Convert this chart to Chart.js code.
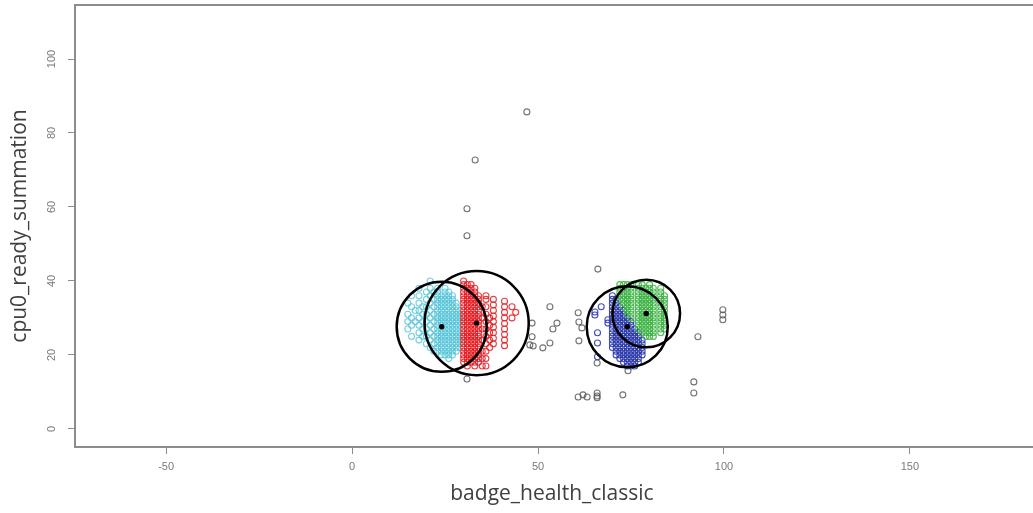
<!DOCTYPE html>
<html>
<head>
<meta charset="utf-8">
<script src="https://cdn.jsdelivr.net/npm/chart.js@4.4.1/dist/chart.umd.min.js"></script>
<style>
  html, body { margin: 0; padding: 0; background: #fff; }
  #wrap { width: 1033px; height: 513px; }
</style>
</head>
<body>
<div id="wrap"><canvas id="clusterChart" width="1033" height="513"></canvas></div>
<script>
// axis ticks
const xTickValues = [-50, 0, 50, 100, 150];
const yTickValues = [0, 20, 40, 60, 80, 100];

// cluster points, stored as columns: one x and the y values read along it
const cyanColX = [15, 16, 17, 18, 19, 20, 21, 22, 23, 24, 25, 26, 27, 28, 29];
const cyanColY = [
  [27, 29, 31, 34],
  [25, 28, 30, 33, 36],
  [29, 32],
  [24, 26, 28, 30, 32, 34, 36, 38],
  [25, 27, 29, 31, 33],
  [23, 25, 27, 29, 31, 33, 35, 37],
  [22, 24, 26, 28, 30, 32, 34, 36, 38, 40],
  [21, 23, 25, 27, 29, 31, 33, 35, 37],
  [21, 22, 23, 24, 25, 26, 27, 28, 29, 30, 31, 32, 33, 34, 35, 36, 37, 38],
  [20, 21, 22, 23, 24, 25, 26, 27, 28, 29, 30, 31, 32, 33, 34, 35, 36],
  [20, 21, 22, 23, 24, 25, 26, 27, 28, 29, 30, 31, 32, 33, 34, 35, 36, 37, 38],
  [19, 20, 21, 22, 23, 24, 25, 26, 27, 28, 29, 30, 31, 32, 33, 34, 35, 36, 37],
  [20, 21, 22, 23, 24, 25, 26, 27, 28, 29, 30, 31, 32, 33, 34, 35, 36],
  [21, 22, 23, 24, 25, 26, 27, 28, 29, 30, 31, 32, 33, 34],
  [22, 23, 24, 25, 26, 27, 28, 29, 30, 31, 32]
];

const redColX = [30, 31, 32, 33, 34, 35, 36, 37, 38, 41, 43, 44];
const redColY = [
  [18, 19, 20, 21, 22, 23, 24, 25, 26, 27, 28, 29, 30, 31, 32, 33, 34, 35, 36, 37, 38, 39, 40],
  [17, 18, 19, 20, 21, 22, 23, 24, 25, 26, 27, 28, 29, 30, 31, 32, 33, 34, 35, 36, 37, 38, 39],
  [18, 19, 20, 21, 22, 23, 24, 25, 26, 27, 28, 29, 30, 31, 32, 33, 34, 35, 36, 37, 38, 39],
  [17, 18, 19, 20, 21, 22, 23, 24, 25, 26, 27, 28, 29, 30, 31, 32, 33, 34, 35, 36, 37, 38],
  [18, 19, 20, 21, 22, 23, 24, 25, 26, 27, 28, 29, 30, 31, 32, 33, 34, 35, 36],
  [17, 19, 21, 24, 27, 30, 33],
  [17, 19, 21, 23, 25, 27, 29, 31, 33, 35, 36],
  [22, 24, 26, 28, 30],
  [23, 24.5, 26, 27.5, 29, 30.5, 32, 33.5, 35],
  [22.5, 24, 25.5, 27, 28.5, 30, 31.5, 33, 34.5],
  [30, 33],
  [31.5]
];

const blueColX = [65.3, 66, 67, 68.8, 70, 71, 72, 73, 74, 75, 76, 77, 78];
const blueColY = [
  [31.6, 30.8],
  [26, 23.2, 19.5],
  [33],
  [29.5, 28.6],
  [22, 23, 24, 25, 26, 27, 28, 29, 30, 31, 32, 33, 34, 35, 36],
  [20, 21, 22, 23, 24, 25, 26, 27, 28, 29, 30, 31, 32, 33, 34, 35],
  [19, 20, 21, 22, 23, 24, 25, 26, 27, 28, 29, 30, 31, 32, 33],
  [18, 19, 20, 21, 22, 23, 24, 25, 26, 27, 28, 29, 30, 31, 32],
  [17, 18, 19, 20, 21, 22, 23, 24, 25, 26, 27, 28, 29, 30],
  [17, 18, 19, 20, 21, 22, 23, 24, 25, 26, 27, 28, 29],
  [17, 18, 19, 20, 21, 22, 23, 24, 25, 26, 27],
  [18, 19, 20, 21, 22, 23, 24, 25, 26],
  [20, 21, 22, 23, 24]
];

const greenColX = [72, 73, 74, 75, 77, 78, 79, 80, 81, 83, 84];
const greenColY = [
  [35, 36, 37, 38, 39],
  [33, 34, 35, 36, 37, 38, 39],
  [31, 32, 33, 34, 35, 36, 37, 38, 39],
  [30, 31, 32, 33, 34, 35, 36, 37, 38, 39],
  [27, 28, 29, 30, 31, 32, 33, 34, 35, 36, 37, 38, 39],
  [26, 27, 28, 29, 30, 31, 32, 33, 34, 35, 36, 37, 38, 39],
  [25, 26, 27, 28, 29, 30, 31, 32, 33, 34, 35, 36, 37, 38],
  [25, 26, 27, 28, 29, 30, 31, 32, 33, 34, 35, 36, 37, 38, 39],
  [25, 26, 27, 28, 29, 30, 31, 32, 33, 34, 35, 36, 37, 38],
  [26, 27, 28, 29, 30, 31, 32, 33, 34, 35, 36, 37, 38],
  [27, 28, 29, 30, 31, 32, 33, 34, 35, 36]
];

// points outside any cluster
const outlierX = [47.0, 33.1, 30.9, 30.9, 66.1, 53.2, 55.1, 54.0, 48.4, 48.4, 47.8, 48.7, 51.3, 53.2,
                  30.9, 60.8, 61.0, 61.8, 61.0, 65.9, 74.2, 60.8, 62.1, 63.2, 65.9, 65.9, 65.9, 72.8,
                  99.7, 99.7, 99.7, 93.0, 91.9, 91.9];
const outlierY = [85.7, 72.7, 59.5, 52.2, 43.2, 33.0, 28.6, 27.0, 28.6, 24.9, 22.7, 22.4, 21.9, 23.2,
                  13.5, 31.4, 28.9, 27.3, 23.8, 17.8, 15.7, 8.6, 9.2, 8.6, 9.7, 8.9, 8.4, 9.2,
                  32.2, 30.8, 29.5, 24.9, 12.7, 9.7];

// cluster centres and the radius of the ring drawn round each
const centreX = [24.1, 33.5, 74.0, 79.1];
const centreY = [27.6, 28.6, 27.6, 31.2];
const ringRadius = [12.1, 14.0, 10.9, 9.1];

function columnsToPoints(colX, colY) {
  const pts = [];
  colX.forEach((x, i) => colY[i].forEach(y => pts.push({ x: x, y: y })));
  return pts;
}

function pairsToPoints(xs, ys) {
  return xs.map((x, i) => ({ x: x, y: ys[i] }));
}

// lower "order" is painted later, so it sits on top
function pointSet(label, data, color, order) {
  return {
    label: label,
    data: data,
    order: order,
    pointStyle: 'circle',
    pointRadius: 3,
    pointHoverRadius: 3,
    pointBorderWidth: 1.1,
    borderColor: color,
    backgroundColor: 'rgba(0,0,0,0)'
  };
}

// frame, rotated y labels (R style) and the cluster rings
const rStylePlugin = {
  id: 'rStyle',
  afterDatasetsDraw(chart) {
    const ctx = chart.ctx;
    const xs = chart.scales.x;
    const ys = chart.scales.y;
    ctx.save();
    ctx.strokeStyle = '#000';
    ctx.lineWidth = 2.5;
    centreX.forEach((cx, i) => {
      const px = xs.getPixelForValue(cx);
      const py = ys.getPixelForValue(centreY[i]);
      const r = xs.getPixelForValue(cx + ringRadius[i]) - px;
      ctx.beginPath();
      ctx.arc(px, py, r, 0, Math.PI * 2);
      ctx.stroke();
    });
    ctx.restore();
  },
  afterDraw(chart) {
    const ctx = chart.ctx;
    const area = chart.chartArea;
    const ys = chart.scales.y;
    ctx.save();
    ctx.strokeStyle = '#8c8c8c';
    ctx.lineWidth = 2;
    // the right side of the box falls outside the picture
    ctx.beginPath();
    ctx.moveTo(chart.width + 2, area.top);
    ctx.lineTo(area.left, area.top);
    ctx.lineTo(area.left, area.bottom);
    ctx.lineTo(chart.width + 2, area.bottom);
    ctx.stroke();

    ctx.fillStyle = '#7a7a7a';
    ctx.font = '11px "Liberation Sans", Arial, sans-serif';
    ctx.textAlign = 'center';
    ctx.textBaseline = 'middle';
    yTickValues.forEach(v => {
      ctx.save();
      ctx.translate(52, ys.getPixelForValue(v));
      ctx.rotate(-Math.PI / 2);
      ctx.fillText(String(v), 0, 0);
      ctx.restore();
    });
    ctx.restore();
  }
};

function renderClusterChart() {
  const ctx = document.getElementById('clusterChart').getContext('2d');

  window.clusterChartInstance = new Chart(ctx, {
    type: 'scatter',
    data: {
      datasets: [
        pointSet('cyan', columnsToPoints(cyanColX, cyanColY), 'rgba(86,196,216,0.8)', 6),
        pointSet('red', columnsToPoints(redColX, redColY), 'rgba(228,28,34,0.85)', 5),
        pointSet('blue', columnsToPoints(blueColX, blueColY), 'rgba(46,60,172,0.9)', 4),
        pointSet('green', columnsToPoints(greenColX, greenColY), 'rgba(62,180,70,0.9)', 3),
        pointSet('outliers', pairsToPoints(outlierX, outlierY), 'rgba(80,80,80,0.8)', 2),
        {
          label: 'centres',
          data: pairsToPoints(centreX, centreY),
          order: 1,
          pointStyle: 'circle',
          pointRadius: 2.7,
          pointBorderWidth: 0,
          backgroundColor: '#000',
          borderColor: '#000'
        }
      ]
    },
    options: {
      responsive: false,
      animation: false,
      devicePixelRatio: 1,
      layout: { padding: { top: 5, right: 0, left: 0, bottom: 0 } },
      plugins: {
        legend: { display: false },
        tooltip: { enabled: false }
      },
      scales: {
        x: {
          type: 'linear',
          min: -74.5,
          max: 182,
          afterBuildTicks: scale => { scale.ticks = xTickValues.map(v => ({ value: v })); },
          afterFit: scale => { scale.height = 66; },
          grid: { display: true, drawOnChartArea: false, drawTicks: true, tickLength: 7, color: '#8c8c8c', lineWidth: 1 },
          border: { display: false },
          ticks: { color: '#7a7a7a', font: { family: '"Liberation Sans", Arial, sans-serif', size: 11 }, padding: 6, maxRotation: 0 },
          title: {
            display: true,
            text: 'badge_health_classic',
            color: '#404040',
            font: { family: '"Open Sans", sans-serif', size: 21 },
            padding: { top: 0, bottom: 6 }
          }
        },
        y: {
          type: 'linear',
          min: -4.9,
          max: 114.6,
          afterBuildTicks: scale => { scale.ticks = yTickValues.map(v => ({ value: v })); },
          afterFit: scale => { scale.width = 75; },
          grid: { display: true, drawOnChartArea: false, drawTicks: true, tickLength: 7, color: '#8c8c8c', lineWidth: 1 },
          border: { display: false },
          ticks: { display: false },
          title: {
            display: true,
            text: 'cpu0_ready_summation',
            color: '#404040',
            font: { family: '"Open Sans", sans-serif', size: 21 },
            padding: { top: 7, bottom: 0 }
          }
        }
      }
    },
    plugins: [rStylePlugin]
  });
}

window.onload = renderClusterChart;
</script>
</body>
</html>
